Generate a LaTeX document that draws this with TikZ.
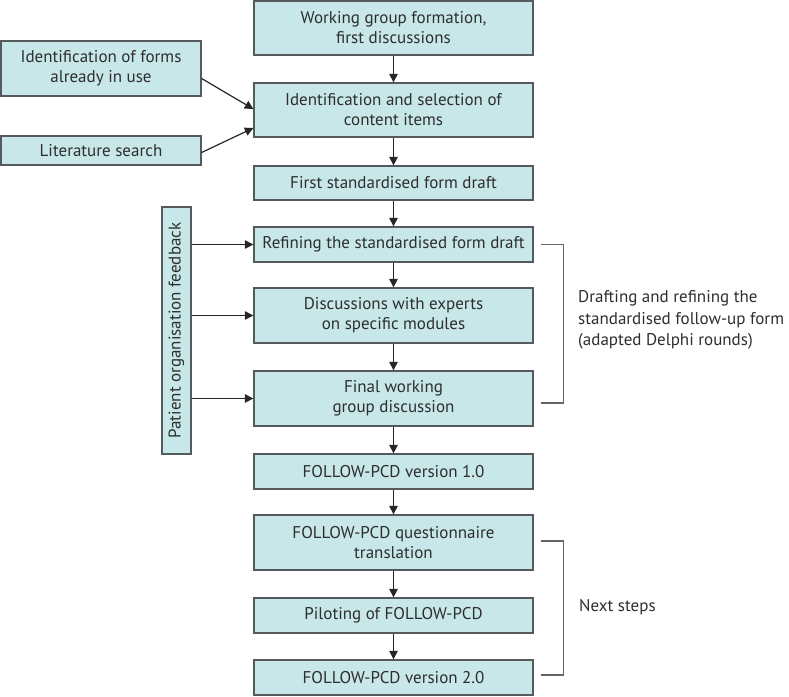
\documentclass[tikz,border=0pt]{standalone}
\usepackage{fontspec}
\setmainfont{PT Sans}
\usetikzlibrary{arrows.meta}
\definecolor{boxfill}{HTML}{C8E7E9}
\definecolor{boxline}{HTML}{555B5C}
\definecolor{txt}{HTML}{2E2E2E}
\definecolor{brk}{HTML}{666666}
\tikzset{
  flowbox/.style={draw=boxline, line width=1.3pt, fill=boxfill, text=txt, align=center,
    minimum width=279pt, inner sep=0pt, font=\fontsize{17}{20}\selectfont},
  sidebox/.style={draw=boxline, line width=1.3pt, fill=boxfill, text=txt, align=center,
    minimum width=200pt, inner sep=0pt, font=\fontsize{17}{20}\selectfont},
  arr/.style={draw=black!85, line width=1.2pt, -{Triangle[length=8.5pt,width=8.5pt]}},
  bracketline/.style={draw=brk, line width=1.2pt},
  sidelabel/.style={text=txt, align=left, anchor=west, inner sep=0pt, font=\fontsize{17}{21.5}\selectfont}
}
\begin{document}
\begin{tikzpicture}[x=1pt,y=-1pt]
\useasboundingbox (0,0) rectangle (789,696);
\node[flowbox, minimum height=54pt] (B1) at (393.5,28) {Working group formation,\\first discussions};
\node[flowbox, minimum height=54pt] (B2) at (393.5,110) {Identification and selection of\\content items};
\node[flowbox, minimum height=34pt] (B3) at (393.5,183) {First standardised form draft};
\node[flowbox, minimum height=35pt] (B4) at (393.5,244.5) {Refining the standardised form draft};
\node[flowbox, minimum height=55pt] (B5) at (393.5,315.5) {Discussions with experts\\on specific modules};
\node[flowbox, minimum height=55pt] (B6) at (393.5,398.5) {Final working\\group discussion};
\node[flowbox, minimum height=35pt] (B7) at (393.5,471.5) {FOLLOW-PCD version 1.0};
\node[flowbox, minimum height=55pt] (B8) at (393.5,542.5) {FOLLOW-PCD questionnaire\\translation};
\node[flowbox, minimum height=35pt] (B9) at (393.5,615.5) {Piloting of FOLLOW-PCD};
\node[flowbox, minimum height=35pt] (B10) at (393.5,677.5) {FOLLOW-PCD version 2.0};

\node[sidebox, minimum height=55pt] (L1) at (101,68.5) {Identification of forms\\already in use};
\node[sidebox, minimum height=29pt] (L2) at (101,150.5) {Literature search};
\node[flowbox, rotate=90, minimum width=247pt, minimum height=29pt] (P) at (176.5,330.5) {Patient organisation feedback};

\draw[arr] (B1) -- (B2);
\draw[arr] (B2) -- (B3);
\draw[arr] (B3) -- (B4);
\draw[arr] (B4) -- (B5);
\draw[arr] (B5) -- (B6);
\draw[arr] (B6) -- (B7);
\draw[arr] (B7) -- (B8);
\draw[arr] (B8) -- (B9);
\draw[arr] (B9) -- (B10);

\draw[arr] ([yshift=-10pt]L1.east) -- ([yshift=1pt]B2.west);
\draw[arr] ([yshift=-2pt]L2.east) -- ([yshift=-18pt]B2.west);

\draw[arr] (P.south |- B4.west) -- (B4.west);
\draw[arr] (P.south |- B5.west) -- (B5.west);
\draw[arr] (P.south |- B6.west) -- (B6.west);

\coordinate (K1a) at ([xshift=7pt]B4.east);
\coordinate (K1b) at ([xshift=7pt,yshift=-4.5pt]B6.east);
\draw[bracketline] (K1a) -- ++(23,0) |- (K1b);
\node[sidelabel] (T1) at (578,320) {Drafting and refining the\\standardised follow-up form\\(adapted Delphi rounds)};

\coordinate (K2a) at ([xshift=7pt,yshift=1.5pt]B8.east);
\coordinate (K2b) at ([xshift=7pt,yshift=2.5pt]B10.east);
\draw[bracketline] (K2a) -- ++(23,0) |- (K2b);
\node[sidelabel] (T2) at (579,607) {Next steps};
\end{tikzpicture}
\end{document}
